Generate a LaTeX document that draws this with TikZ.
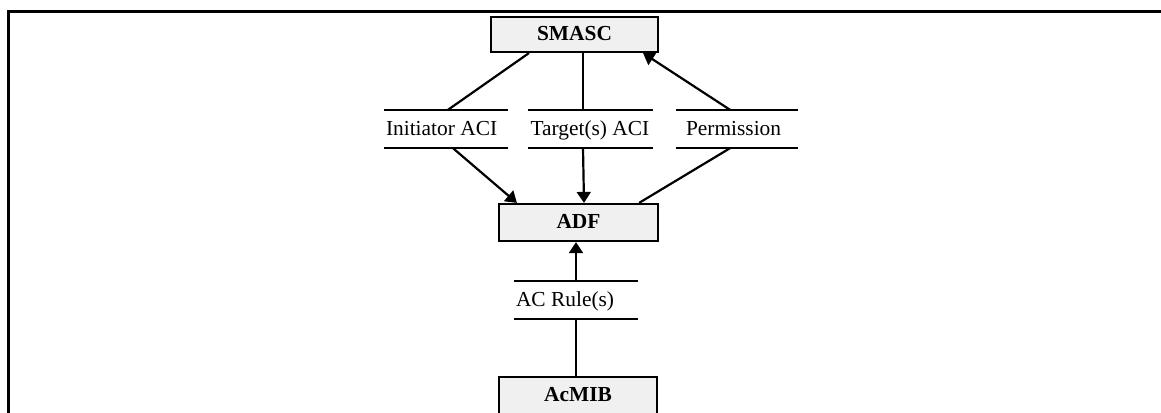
\documentclass[tikz,border=0pt]{standalone}
\usepackage{fontspec}
\setmainfont{Liberation Serif}
\usetikzlibrary{arrows.meta}
\begin{document}
\begin{tikzpicture}[x=1pt,y=1pt,
  every node/.style={font=\fontsize{21.4}{24}\selectfont},
  entity/.style={draw=black, line width=2.2pt, fill=black!6, font=\fontsize{21.4}{24}\selectfont\bfseries,
    inner sep=0pt, text height=15pt, text depth=3pt},
  store/.style={inner ysep=0pt, inner xsep=2pt, text width=120pt, align=flush left,
    minimum height=38pt, text height=15pt, text depth=3pt},
  link/.style={line width=2.2pt},
  flow/.style={line width=2.2pt, -{Triangle[length=11pt,width=14pt]}},
  frame/.style={line width=3pt}]
\clip (0,0) rectangle (1161,-412);
% outer frame (top and left edges)
\draw[frame] (8.5,-430) -- (8.5,-11.5) -- (1180,-11.5);

% entities
\node[entity, minimum width=167pt, minimum height=35pt] (smasc) at (574.5,-34.5) {SMASC};
\node[entity, minimum width=159pt, minimum height=37pt] (adf) at (578.5,-222.5) {ADF};
\node[entity, minimum width=158pt, minimum height=37pt] (acmib) at (578,-395.5) {AcMIB};

% data stores
\node[store] (ini) at (446,-129) {Initiator ACI};
\node[store] (tgt) at (590.5,-129) {Target(s) ACI};
\node[store, inner xsep=10pt, text width=102pt] (perm) at (737,-129) {Permission};
\node[store] (rule) at (576,-300) {AC Rule(s)};
\foreach \s in {ini,tgt,perm,rule}{
  \draw[link] (\s.north west) -- (\s.north east);
  \draw[link] (\s.south west) -- (\s.south east);
}

% connectors
\draw[link] ([xshift=39pt]smasc.south west) -- ([xshift=2pt]ini.north);
\draw[flow] ([xshift=7pt]ini.south) -- ([xshift=19pt]adf.north west);
\draw[link] ([xshift=8.5pt]smasc.south) -- ([xshift=-7.5pt]tgt.north);
\draw[flow] ([xshift=-7.5pt]tgt.south) -- ([xshift=5.5pt]adf.north);
\draw[flow] ([xshift=-7pt]perm.north) -- ([xshift=-16pt]smasc.south east);
\draw[link] ([xshift=-7pt]perm.south) -- ([xshift=-20pt]adf.north east);
\draw[link] ([xshift=-2pt]acmib.north) -- (rule.south);
\draw[flow] (rule.north) -- ([xshift=-2.5pt]adf.south);
\end{tikzpicture}
\end{document}
